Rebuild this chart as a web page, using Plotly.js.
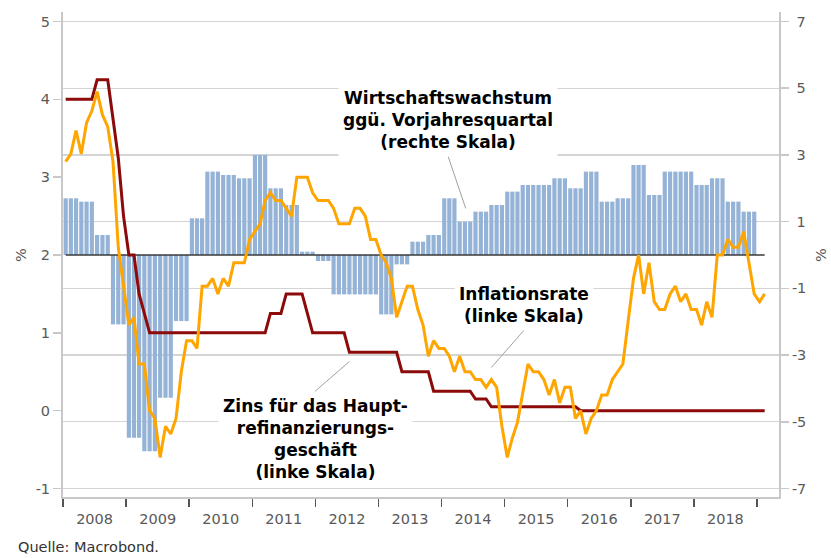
<!DOCTYPE html>
<html>
<head>
<meta charset="utf-8">
<script src="https://cdn.plot.ly/plotly-3.0.1.min.js"></script>
<style>html,body{margin:0;padding:0;background:#fff}#chart{width:831px;height:558px}</style>
</head>
<body>
<div id="chart"></div>
<script>
// ---------- data ----------
const startYear = 2008;
// GDP growth vs. prior-year quarter (right scale), 2008Q1 .. 2018Q4
const gdpQuarterly = [
  1.7, 1.6, 0.6, -2.08,
  -5.48, -5.88, -4.28, -1.98,
  1.1, 2.5, 2.4, 2.3,
  3.0, 2.0, 1.5, 0.1,
  -0.18, -1.18, -1.18, -1.18,
  -1.78, -0.28, 0.4, 0.6,
  1.7, 1.0, 1.3, 1.5,
  1.9, 2.1, 2.1, 2.3,
  2.0, 2.5, 1.6, 1.7,
  2.7, 1.8, 2.5, 2.5,
  2.1, 2.3, 1.6, 1.3
];
// Inflation rate (left scale), monthly Jan 2008 .. Feb 2019
const inflation = [
  3.2, 3.3, 3.6, 3.3, 3.7, 3.85, 4.1, 3.8, 3.65, 3.2, 2.1, 1.6,
  1.1, 1.2, 0.6, 0.6, 0.0, -0.1, -0.6, -0.2, -0.3, -0.1, 0.5, 0.9,
  0.9, 0.8, 1.6, 1.6, 1.7, 1.5, 1.7, 1.6, 1.9, 1.9, 1.9, 2.2,
  2.3, 2.4, 2.7, 2.8, 2.7, 2.7, 2.6, 2.5, 3.0, 3.0, 3.0, 2.8,
  2.7, 2.7, 2.7, 2.6, 2.4, 2.4, 2.4, 2.6, 2.6, 2.5, 2.2, 2.2,
  2.0, 1.9, 1.7, 1.2, 1.4, 1.6, 1.6, 1.3, 1.1, 0.7, 0.9, 0.8,
  0.8, 0.7, 0.5, 0.7, 0.5, 0.5, 0.4, 0.4, 0.3, 0.4, 0.3, -0.2,
  -0.6, -0.35, -0.15, 0.2, 0.6, 0.5, 0.5, 0.4, 0.2, 0.4, 0.1, 0.3,
  0.3, -0.1, 0.0, -0.3, -0.1, 0.0, 0.2, 0.2, 0.4, 0.5, 0.6, 1.15,
  1.7, 2.0, 1.5, 1.9, 1.4, 1.3, 1.3, 1.5, 1.6, 1.4, 1.5, 1.3,
  1.3, 1.1, 1.4, 1.2, 2.0, 2.0, 2.2, 2.1, 2.1, 2.3, 1.9, 1.5,
  1.4, 1.5
];
// Main refinancing rate (left scale), monthly Jan 2008 .. Feb 2019
const refiRate = [
  4, 4, 4, 4, 4, 4, 4.25, 4.25, 4.25, 3.75, 3.25, 2.5,
  2, 2, 1.5, 1.25, 1, 1, 1, 1, 1, 1, 1, 1,
  1, 1, 1, 1, 1, 1, 1, 1, 1, 1, 1, 1,
  1, 1, 1, 1.25, 1.25, 1.25, 1.5, 1.5, 1.5, 1.5, 1.25, 1,
  1, 1, 1, 1, 1, 1, 0.75, 0.75, 0.75, 0.75, 0.75, 0.75,
  0.75, 0.75, 0.75, 0.75, 0.5, 0.5, 0.5, 0.5, 0.5, 0.5, 0.25, 0.25,
  0.25, 0.25, 0.25, 0.25, 0.25, 0.25, 0.15, 0.15, 0.15, 0.05, 0.05, 0.05,
  0.05, 0.05, 0.05, 0.05, 0.05, 0.05, 0.05, 0.05, 0.05, 0.05, 0.05, 0.05,
  0.05, 0.05, 0, 0, 0, 0, 0, 0, 0, 0, 0, 0,
  0, 0, 0, 0, 0, 0, 0, 0, 0, 0, 0, 0,
  0, 0, 0, 0, 0, 0, 0, 0, 0, 0, 0, 0,
  0, 0
];
const leftTicks = [-1, 0, 1, 2, 3, 4, 5];
const leftTickText = ['-1', '0', '1', '2', '3', '4', '5'];
const rightTicks = [-7, -5, -3, -1, 1, 3, 5, 7];
const rightTickText = ['-7', '-5', '-3', '-1', '\u20081', '\u20083', '\u20085', '\u20087'];

// ---------- helpers ----------
function monthStart(i) {
  const y = startYear + Math.floor(i / 12);
  const m = (i % 12) + 1;
  return y + '-' + String(m).padStart(2, '0') + '-01';
}
function monthMid(i) {
  const y = startYear + Math.floor(i / 12);
  const m = (i % 12) + 1;
  return y + '-' + String(m).padStart(2, '0') + '-16';
}
const months = inflation.map((_, i) => monthStart(i));
const gdpMonths = [], gdpMonthly = [];
gdpQuarterly.forEach((v, q) => {
  for (let k = 0; k < 3; k++) { gdpMonths.push(monthStart(q * 3 + k)); gdpMonthly.push(v); }
});

const FONT = 'DejaVu Sans, Verdana, sans-serif';
const per = { xperiod: 'M1', xperiodalignment: 'middle' };

// base axis 'y' = right scale (bars), overlay 'y2' = left scale (lines, drawn on top)
const traces = [
  Object.assign({
    type: 'bar', x: gdpMonths, y: gdpMonthly, yaxis: 'y',
    marker: { color: '#95B3D7', line: { width: 0 } }, hoverinfo: 'skip'
  }, per),
  Object.assign({
    type: 'scatter', mode: 'lines', x: [months[0], months[months.length - 1]], y: [0, 0], yaxis: 'y',
    line: { color: '#3a3a3a', width: 1.5 }, hoverinfo: 'skip'
  }, per),
  Object.assign({
    type: 'scatter', mode: 'lines', x: months, y: refiRate, yaxis: 'y2',
    line: { color: '#8C0A0A', width: 3 }, name: 'Zins'
  }, per),
  Object.assign({
    type: 'scatter', mode: 'lines', x: months, y: inflation, yaxis: 'y2',
    line: { color: '#FFA500', width: 3 }, name: 'Inflationsrate'
  }, per)
];

const tickFont = { family: FONT, size: 14.5, color: '#595959' };
const annFont = { family: FONT, size: 17, color: '#000' };

const layout = {
  width: 831, height: 558,
  margin: { l: 63, r: 52, t: 12, b: 61 },
  paper_bgcolor: '#fff', plot_bgcolor: '#fff',
  showlegend: false,
  bargap: 0.18,
  font: { family: FONT },
  xaxis: {
    type: 'date', range: ['2008-01-01', '2019-05-09'],
    tick0: '2008-01-01', dtick: 'M12', tickformat: '%Y', ticklabelmode: 'period',
    ticks: 'outside', ticklen: 8, tickwidth: 1.5, tickcolor: '#555',
    showline: true, linecolor: '#c8c8c8', linewidth: 2,
    showgrid: false, zeroline: false, tickfont: tickFont
  },
  yaxis: {
    side: 'right',
    range: [-7.254, 7.285], tickvals: rightTicks, ticktext: rightTickText,
    ticks: 'outside', ticklen: 8, tickwidth: 1.5, tickcolor: '#c8c8c8',
    showline: true, linecolor: '#c8c8c8', linewidth: 2,
    showgrid: true, gridcolor: '#d4d4d4', gridwidth: 1.3,
    zeroline: false, tickfont: tickFont
  },
  yaxis2: {
    overlaying: 'y', side: 'left',
    range: [-1.109, 5.122], tickvals: leftTicks, ticktext: leftTickText,
    ticks: 'outside', ticklen: 8, tickwidth: 1.5, tickcolor: '#c8c8c8',
    showline: true, linecolor: '#c8c8c8', linewidth: 2,
    showgrid: false, zeroline: false, tickfont: tickFont
  },
  annotations: [
    {
      text: '<b>Wirtschaftswachstum<br>ggü. Vorjahresquartal<br>(rechte Skala)</b>',
      xref: 'x', yref: 'y', x: monthMid(77), y: gdpQuarterly[25],
      ax: -22, ay: -65, xanchor: 'center', yanchor: 'bottom',
      showarrow: true, arrowhead: 0, arrowwidth: 1, arrowcolor: '#a0a0a0', standoff: 14,
      bgcolor: '#fff', borderpad: 4, align: 'center', font: annFont
    },
    {
      text: '<b>Zins für das Haupt-<br>refinanzierungs-<br>geschäft<br>(linke Skala)</b>',
      xref: 'x', yref: 'y2', x: monthMid(56), y: refiRate[56],
      ax: -45, ay: 39, xanchor: 'center', yanchor: 'top',
      showarrow: true, arrowhead: 0, arrowwidth: 1, arrowcolor: '#a0a0a0', standoff: 14,
      bgcolor: '#fff', borderpad: 4, align: 'center', font: annFont
    },
    {
      text: '<b>Inflationsrate<br>(linke Skala)</b>',
      xref: 'x', yref: 'y2', x: monthMid(79), y: inflation[79],
      ax: 43, ay: -49, xanchor: 'center', yanchor: 'bottom',
      showarrow: true, arrowhead: 0, arrowwidth: 1, arrowcolor: '#a0a0a0', standoff: 16,
      bgcolor: '#fff', borderpad: 4, align: 'center', font: annFont
    },
    {
      text: '%', xref: 'paper', yref: 'paper', x: -0.0587, y: 0.499, textangle: -90,
      showarrow: false, xanchor: 'center', yanchor: 'middle', font: tickFont
    },
    {
      text: '%', xref: 'paper', yref: 'paper', x: 1.0587, y: 0.499, textangle: -90,
      showarrow: false, xanchor: 'center', yanchor: 'middle', font: tickFont
    },
    {
      text: 'Quelle: Macrobond.', xref: 'paper', yref: 'paper', x: -0.0656, y: -0.103,
      showarrow: false, xanchor: 'left', yanchor: 'middle',
      font: { family: FONT, size: 14.5, color: '#333' }
    }
  ]
};

Plotly.newPlot('chart', traces, layout, { displayModeBar: false, staticPlot: true });
</script>
</body>
</html>
